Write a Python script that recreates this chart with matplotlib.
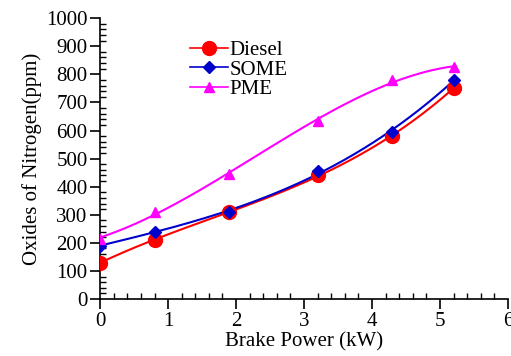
import numpy as np
import matplotlib
matplotlib.use("Agg")
import matplotlib.pyplot as plt
from matplotlib.ticker import MultipleLocator

power = [0, 0.8, 1.9, 3.2, 4.3, 5.2]
diesel = [130, 210, 310, 440, 580, 752]
some = [190, 240, 310, 455, 595, 780]
pme = [215, 310, 445, 635, 780, 825]

plt.rcParams['font.family'] = ['Liberation Serif', 'DejaVu Serif']

fig = plt.figure(figsize=(5.11, 3.56), dpi=100)
ax = fig.add_axes([0.196, 0.160, 0.798, 0.789])

series = [
    ("Diesel", diesel, "#ff0000", "o", 10, 3),
    ("SOME", some, "#0000cc", "D", 6, 3),
    ("PME", pme, "#ff00ff", "^", 7, 3),
]
xs = np.linspace(0, 5.2, 200)
for name, vals, col, mk, ms, deg in series:
    # smoothed curve, like the original plotting software
    c = np.polyfit(power, vals, deg)
    ax.plot(xs, np.polyval(c, xs), color=col, lw=1.5, zorder=2)
    ax.plot(power, vals, ls="none", marker=mk, ms=ms, color=col, zorder=3)
    ax.plot([], [], color=col, lw=1.2, marker=mk, ms=ms, label=name)

ax.set_xlim(0, 6)
ax.set_ylim(0, 1000)
ax.xaxis.set_major_locator(MultipleLocator(1))
ax.xaxis.set_minor_locator(MultipleLocator(0.2))
ax.yaxis.set_major_locator(MultipleLocator(100))
ax.yaxis.set_minor_locator(MultipleLocator(20))
for s in ["top", "right"]:
    ax.spines[s].set_visible(False)
for s in ["left", "bottom"]:
    ax.spines[s].set_linewidth(1.2)
ax.tick_params(which="major", direction="out", length=7, width=1.2, labelsize=15, pad=2)
ax.tick_params(which="minor", direction="in", length=4, width=1)

ax.set_xlabel("Brake Power (kW)", fontsize=15, labelpad=1)
ax.set_ylabel("Oxides of Nitrogen(ppm)", fontsize=15, labelpad=3)

ax.legend(loc="upper left", bbox_to_anchor=(0.2, 0.95), frameon=False,
          fontsize=15, handlelength=1.8, handletextpad=0.1, labelspacing=0.0,
          borderaxespad=0)

fig.savefig("out.png", dpi=100)
